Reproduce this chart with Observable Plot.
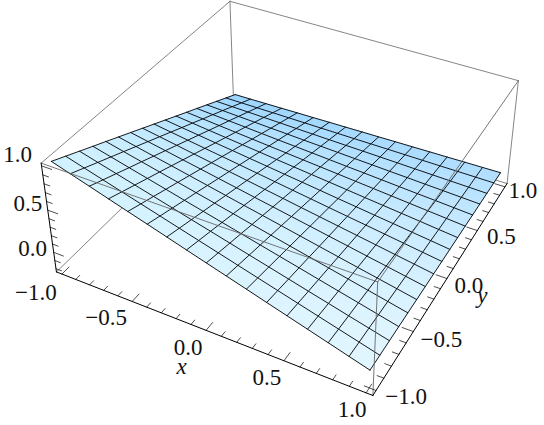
<!DOCTYPE html><html><head><meta charset="utf-8">
<script src="https://cdn.jsdelivr.net/npm/d3@7"></script>
<script src="https://cdn.jsdelivr.net/npm/@observablehq/plot@0.6"></script>
<style>html,body{margin:0;background:#fff}</style></head><body>
<script>
// Surface heights: one row per y mesh line, one value per x mesh line.
const meshX=[-1,-.875,-.75,-.625,-.5,-.375,-.25,-.125,0,.125,.25,.375,.5,.625,.75,.875,1];
const meshY=meshX;
const z00=[1.030,.964,.898,.831,.765,.699,.633,.566,.500,.434,.368,.301,.235,.169,.103,.036,-.030];
const z01=[.958,.896,.834,.772,.710,.648,.586,.524,.463,.401,.339,.277,.215,.153,.091,.029,-.033];
const z02=[.886,.828,.771,.713,.656,.598,.540,.483,.425,.367,.310,.252,.194,.137,.079,.022,-.036];
const z03=[.814,.761,.707,.654,.601,.547,.494,.441,.388,.334,.281,.228,.174,.121,.068,.014,-.039];
const z04=[.743,.694,.645,.596,.547,.498,.449,.400,.350,.301,.252,.203,.154,.105,.056,.007,-.042];
const z05=[.671,.626,.581,.537,.492,.447,.402,.357,.313,.268,.223,.178,.133,.088,.044,-.001,-.046];
const z06=[.599,.558,.518,.477,.437,.396,.356,.315,.275,.234,.194,.153,.113,.072,.032,-.009,-.049];
const z07=[.527,.491,.455,.418,.382,.346,.310,.274,.238,.201,.165,.129,.093,.057,.020,-.016,-.052];
const z08=[.455,.423,.391,.359,.328,.296,.264,.232,.200,.168,.136,.104,.073,.041,.009,-.023,-.055];
const z09=[.383,.355,.328,.300,.273,.245,.218,.190,.163,.135,.107,.080,.052,.025,-.003,-.030,-.058];
const z10=[.311,.288,.264,.241,.218,.195,.171,.148,.125,.102,.079,.055,.032,.009,-.014,-.038,-.061];
const z11=[.239,.220,.201,.182,.163,.144,.125,.106,.088,.069,.050,.031,.012,-.007,-.026,-.045,-.064];
const z12=[.168,.153,.139,.124,.109,.094,.080,.065,.050,.035,.021,.006,-.009,-.024,-.038,-.053,-.068];
const z13=[.096,.086,.075,.065,.054,.044,.033,.023,.013,.002,-.008,-.019,-.029,-.040,-.050,-.061,-.071];
const z14=[.024,.018,.012,.006,0,-.007,-.013,-.019,-.025,-.031,-.037,-.043,-.050,-.056,-.062,-.068,-.074];
const z15=[-.048,-.050,-.052,-.053,-.055,-.057,-.059,-.061,-.063,-.064,-.066,-.068,-.070,-.072,-.073,-.075,-.077];
const z16=[-.120,-.118,-.115,-.113,-.110,-.108,-.105,-.103,-.100,-.098,-.095,-.093,-.090,-.088,-.085,-.083,-.080];
const zRows=[z00,z01,z02,z03,z04,z05,z06,z07,z08,z09,z10,z11,z12,z13,z14,z15,z16];
const xyTicks=[-1,-.5,0,.5,1];
const zTicks=[0,.5,1];
const minorXY=d3.range(-10,11).map(d=>d/10);
const minorZ=d3.range(-2,11).map(d=>d/10);
const boxXY=1.04,zLow=-0.24,zHigh=1.03;
// Camera of the 3D view (homogeneous projection).
const cam=[128.437,104.043,-13.3521,292.307,38.3095,-70.3055,-89.4255,205.942,-0.0474852,0.0956551,-0.0440407];
const P=(x,y,z)=>{const w=cam[8]*x+cam[9]*y+cam[10]*z+1;return [(cam[0]*x+cam[1]*y+cam[2]*z+cam[3])/w,(cam[4]*x+cam[5]*y+cam[6]*z+cam[7])/w];};
const cornerColours=[[208,241,255],[225,246,255],[152,212,255],[176,222,255]];
const N=meshX.length-1,S=3,polys=[];
const lerp=(a,b,t)=>a+(b-a)*t;
const surf=(fi,fj)=>{const i=Math.min(Math.floor(fi),N-1),j=Math.min(Math.floor(fj),N-1),u=fi-i,v=fj-j;
 const z=lerp(lerp(zRows[j][i],zRows[j][i+1],u),lerp(zRows[j+1][i],zRows[j+1][i+1],u),v);
 return P(lerp(meshX[i],meshX[i+1],u),lerp(meshY[j],meshY[j+1],v),z);};
for(let i=0;i<N*S;i++)for(let j=0;j<N*S;j++){
 const u=(i+.5)/(N*S),v=Math.pow((j+.5)/(N*S),1.5),[a,b,c,d]=cornerColours;
 const col=[0,1,2].map(k=>Math.round((1-u)*(1-v)*a[k]+u*(1-v)*b[k]+(1-u)*v*c[k]+u*v*d[k]));
 for(const [a2,b2] of [[i,j],[i+1,j],[i+1,j+1],[i,j+1]]){const p=surf(a2/S,b2/S);polys.push({id:i*1000+j,x:p[0],y:p[1],c:`rgb(${col})`});}
}
const mesh=[];
meshX.forEach((_,i)=>meshY.forEach((_,j)=>{
 let p=P(meshX[i],meshY[j],zRows[j][i]);mesh.push({id:"x"+i,x:p[0],y:p[1]});
 p=P(meshX[j],meshY[i],zRows[i][j]);mesh.push({id:"y"+i,x:p[0],y:p[1]});}));
const B=boxXY,zb=zLow,zt=zHigh;
const seg=l=>l.flatMap((s,i)=>s.map(c=>{const p=P(...c);return {id:i,x:p[0],y:p[1]};}));
const back=seg([[[-B,B,zb],[-B,B,zt]],[[-B,B,zt],[B,B,zt]],[[-B,B,zt],[-B,-B,zt]],[[-B,B,zb],[-B,-B,zb]],[[B,B,zb],[B,B,zt]],[[B,B,zb],[-B,B,zb]]]);
const front=seg([[[-B,-B,zt],[B,-B,zt]],[[B,-B,zt],[B,-B,zb]],[[B,-B,zt],[B,B,zt]]]);
const axes=seg([[[-B,-B,zt],[-B,-B,zb]],[[-B,-B,zb],[B,-B,zb]],[[B,-B,zb],[B,B,zb]]]);
const maj=v=>Math.abs(v*2-Math.round(v*2))<1e-6;
const ticks=seg([
 ...minorXY.map(v=>[[v,-B,zb],[v,-B+(maj(v)?.07:.04),zb]]),
 ...minorXY.map(v=>[[B,v,zb],[B-(maj(v)?.07:.04),v,zb]]),
 ...minorZ.map(v=>[[-B,-B,v],[-B+(maj(v)?.07:.04),-B,v]])]);
const fmt=v=>v.toFixed(1).replace("-","\u2212");
const label=(t,p,dx,dy,o={})=>Plot.text([{x:p[0],y:p[1],t}],{x:"x",y:"y",text:"t",dx,dy,fontFamily:"Liberation Serif",fontSize:23,fill:"#111",...o});
const xOff=[[-26,19],[-26,16],[-18,17],[-17,17],[-14,17]];
const yOff=[[30,6],[28,8],[22,7],[24,6],[18,4]];
const zOff=[[-21,-4],[-20,-6],[-24,-11]];
const plot=Plot.plot({width:544,height:425,margin:0,x:{domain:[0,544],range:[0,544],axis:null},y:{domain:[0,425],range:[0,425],axis:null},color:{type:"identity"},style:{background:"#fff"},marks:[
 Plot.line(back,{x:"x",y:"y",z:"id",stroke:"#666",strokeWidth:.8}),
 Plot.line(polys,{x:"x",y:"y",z:"id",fill:"c",stroke:"c",strokeWidth:.6}),
 Plot.line(mesh,{x:"x",y:"y",z:"id",stroke:"#000",strokeWidth:.9}),
 Plot.line(front,{x:"x",y:"y",z:"id",stroke:"#666",strokeWidth:.9}),
 Plot.line(axes,{x:"x",y:"y",z:"id",stroke:"#000",strokeWidth:1}),
 Plot.line(ticks,{x:"x",y:"y",z:"id",stroke:"#000",strokeWidth:.7}),
 ...xyTicks.map((v,i)=>label(fmt(v),P(v,-B,zb),xOff[i][0],xOff[i][1])),
 ...xyTicks.map((v,i)=>label(fmt(v),P(B,v,zb),yOff[i][0],yOff[i][1])),
 ...zTicks.map((v,i)=>label(fmt(v),P(-B,-B,v),zOff[i][0],zOff[i][1])),
 label("x",P(-.07,-B,zb),-14,40,{fontStyle:"italic"}),
 label("y",P(B,.12,zb),28,29,{fontStyle:"italic"})
]});
document.body.appendChild(plot);
</script></body></html>
